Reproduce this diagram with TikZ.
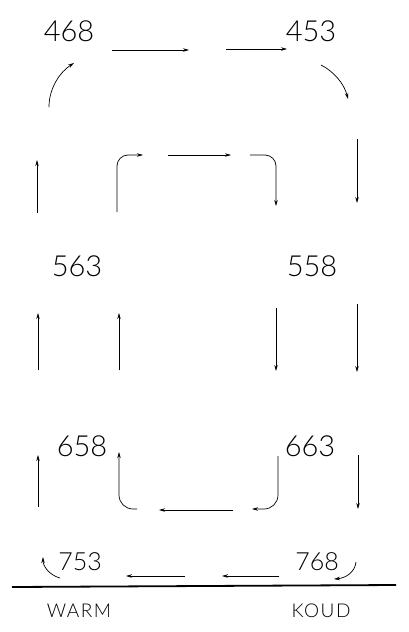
\documentclass[tikz,border=0pt]{standalone}
\usepackage{fontspec}
\setmainfont{Lato Light}
\usetikzlibrary{arrows.meta}
\begin{document}
\begin{tikzpicture}[x=1pt,y=-1pt,
  flow/.style={line width=0.7pt,-{Stealth[length=6pt,width=3.5pt]}},
  num/.style={font=\fontsize{29}{29}\selectfont,inner sep=0pt},
  numsm/.style={font=\fontsize{25}{25}\selectfont,inner sep=0pt},
  lab/.style={font=\fontsize{19}{19}\selectfont\addfontfeatures{LetterSpace=8},inner sep=0pt}]
\useasboundingbox (0,0) rectangle (408,632);
% labels
\node[num] (n468) at (69,31) {468};
\node[num] (n453) at (311,31) {453};
\node[num] (n563) at (77,266) {563};
\node[num] (n558) at (312,266) {558};
\node[num] (n658) at (82,446) {658};
\node[num] (n663) at (310,446) {663};
\node[numsm] (n753) at (80,562) {753};
\node[numsm] (n768) at (317,562) {768};
\node[lab] (warm) at (79,611) {WARM};
\node[lab] (koud) at (321,611) {KOUD};
% coordinates
\coordinate (a1) at (112,50); \coordinate (a2) at (189,50);
\coordinate (b1) at (226,49); \coordinate (b2) at (287,49);
\coordinate (c1) at (49,107); \coordinate (c2) at (74,63);
\coordinate (d1) at (321,65); \coordinate (d2) at (348,99);
\coordinate (e1) at (37,213); \coordinate (e2) at (37,160);
\coordinate (f1) at (117,212); \coordinate (f2) at (143,155);
\coordinate (g1) at (168,155); \coordinate (g2) at (231,155);
\coordinate (h1) at (250,155); \coordinate (h2) at (276,206);
\coordinate (i1) at (357,139); \coordinate (i2) at (357,203);
\coordinate (j1) at (38,370); \coordinate (j2) at (38,313);
\coordinate (k1) at (119,370); \coordinate (k2) at (119,313);
\coordinate (l1) at (276,308); \coordinate (l2) at (276,371);
\coordinate (m1) at (357,304); \coordinate (m2) at (357,372);
\coordinate (o1) at (38,507); \coordinate (o2) at (38,455);
\coordinate (p1) at (137,509); \coordinate (p2) at (119,452);
\coordinate (q1) at (233,510); \coordinate (q2) at (159,510);
\coordinate (r1) at (278,456); \coordinate (r2) at (252,509);
\coordinate (s1) at (358,455); \coordinate (s2) at (358,509);
\coordinate (t1) at (60,578); \coordinate (t2) at (43,557);
\coordinate (u1) at (185,576); \coordinate (u2) at (126,576);
\coordinate (v1) at (279,576); \coordinate (v2) at (222,576);
\coordinate (w1) at (356,562); \coordinate (w2) at (334,579);
\coordinate (bl) at (12,587); \coordinate (br) at (396,585);
% arrows
\draw[flow] (a1) -- (a2);
\draw[flow] (b1) -- (b2);
\draw[flow] (c1) .. controls (49,88) and (60,72) .. (c2);
\draw[flow] (d1) .. controls (333,71) and (344,83) .. (d2);
\draw[flow] (e1) -- (e2);
\draw[flow,rounded corners=11pt] (f1) |- (f2);
\draw[flow] (g1) -- (g2);
\draw[flow,rounded corners=11pt] (h1) -| (h2);
\draw[flow] (i1) -- (i2);
\draw[flow] (j1) -- (j2);
\draw[flow] (k1) -- (k2);
\draw[flow] (l1) -- (l2);
\draw[flow] (m1) -- (m2);
\draw[flow] (o1) -- (o2);
\draw[flow,rounded corners=14pt] (p1) -| (p2);
\draw[flow] (q1) -- (q2);
\draw[flow,rounded corners=14pt] (r1) |- (r2);
\draw[flow] (s1) -- (s2);
\draw[flow] (t1) .. controls (49,575) and (43,566) .. (t2);
\draw[flow] (u1) -- (u2);
\draw[flow] (v1) -- (v2);
\draw[flow] (w1) .. controls (355,572) and (346,578) .. (w2);
\draw[line width=1.8pt] (bl) -- (br);
\end{tikzpicture}
\end{document}
